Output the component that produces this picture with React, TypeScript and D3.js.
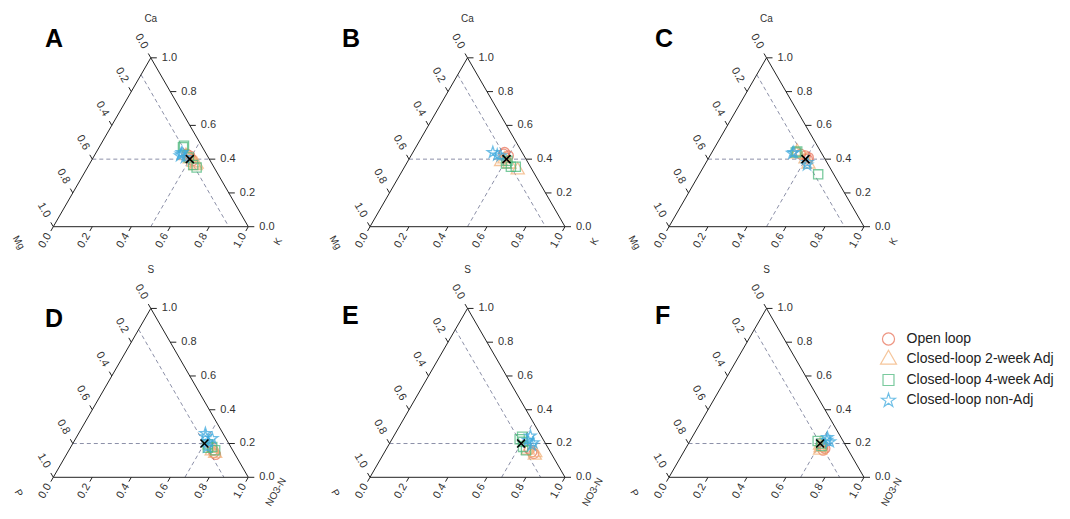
import React from "react";
import * as d3 from "d3";

// ---- data: each point is [top, left, right] composition ----
// Top row: [Ca, Mg, K]; bottom row: [S, P, NO3-N]
const topLabels = ["Ca", "Mg", "K"];
const bottomLabels = ["S", "P", "NO3-N"];
const panelLetters = ["A", "B", "C", "D", "E", "F"];
const tickValues = [0, 0.2, 0.4, 0.6, 0.8, 1.0];
const groupNames = ["Open loop", "Closed-loop 2-week Adj", "Closed-loop 4-week Adj", "Closed-loop non-Adj"];
const groupColors = ["#E8735A", "#F2B27A", "#4DB87E", "#3FA9DD"];

const targetTop = [0.4, 0.1, 0.5];
const targetBottom = [0.2, 0.125, 0.675];

// Panel A
const A_open = [[0.42, 0.09, 0.49], [0.41, 0.10, 0.49], [0.40, 0.09, 0.51], [0.39, 0.09, 0.52], [0.43, 0.10, 0.47]];
const A_wk2 = [[0.40, 0.10, 0.50], [0.37, 0.08, 0.55], [0.38, 0.09, 0.53], [0.42, 0.11, 0.47], [0.36, 0.09, 0.55]];
const A_wk4 = [[0.47, 0.10, 0.43], [0.48, 0.09, 0.43], [0.365, 0.10, 0.535], [0.35, 0.09, 0.56], [0.41, 0.10, 0.49]];
const A_non = [[0.42, 0.14, 0.44], [0.43, 0.13, 0.44], [0.41, 0.12, 0.47], [0.44, 0.12, 0.44]];
// Panel B
const B_open = [[0.44, 0.09, 0.47], [0.43, 0.10, 0.47], [0.42, 0.08, 0.50], [0.41, 0.10, 0.49]];
const B_wk2 = [[0.385, 0.135, 0.48], [0.335, 0.075, 0.59], [0.37, 0.10, 0.53], [0.40, 0.11, 0.49]];
const B_wk4 = [[0.375, 0.115, 0.51], [0.355, 0.10, 0.545], [0.355, 0.075, 0.57], [0.39, 0.10, 0.51]];
const B_non = [[0.44, 0.15, 0.41], [0.425, 0.135, 0.44], [0.42, 0.12, 0.46]];
// Panel C
const C_open = [[0.41, 0.08, 0.51], [0.42, 0.09, 0.49], [0.40, 0.09, 0.51], [0.43, 0.11, 0.46]];
const C_wk2 = [[0.445, 0.12, 0.435], [0.37, 0.10, 0.53], [0.40, 0.10, 0.50], [0.43, 0.13, 0.44]];
const C_wk4 = [[0.445, 0.12, 0.435], [0.44, 0.13, 0.43], [0.31, 0.08, 0.61]];
const C_non = [[0.435, 0.15, 0.415], [0.365, 0.11, 0.525], [0.38, 0.10, 0.52], [0.44, 0.14, 0.42]];
// Panel D
const D_open = [[0.145, 0.105, 0.75], [0.135, 0.10, 0.765], [0.16, 0.10, 0.74]];
const D_wk2 = [[0.14, 0.10, 0.76], [0.155, 0.11, 0.735], [0.17, 0.095, 0.735]];
const D_wk4 = [[0.18, 0.095, 0.725], [0.16, 0.09, 0.75], [0.195, 0.11, 0.695], [0.175, 0.12, 0.705]];
const D_non = [[0.26, 0.09, 0.65], [0.23, 0.07, 0.70], [0.18, 0.12, 0.70], [0.21, 0.10, 0.69], [0.24, 0.10, 0.66]];
// Panel E
const E_open = [[0.15, 0.095, 0.755], [0.14, 0.09, 0.77], [0.165, 0.10, 0.735]];
const E_wk2 = [[0.13, 0.09, 0.78], [0.145, 0.08, 0.775], [0.16, 0.11, 0.73]];
const E_wk4 = [[0.24, 0.10, 0.66], [0.18, 0.125, 0.695], [0.16, 0.12, 0.72], [0.21, 0.11, 0.68], [0.225, 0.12, 0.655]];
const E_non = [[0.245, 0.055, 0.70], [0.205, 0.06, 0.735], [0.22, 0.08, 0.70], [0.19, 0.075, 0.735]];
// Panel F
const F_open = [[0.17, 0.115, 0.715], [0.16, 0.13, 0.71], [0.18, 0.12, 0.70]];
const F_wk2 = [[0.16, 0.145, 0.695], [0.175, 0.135, 0.69], [0.19, 0.13, 0.68]];
const F_wk4 = [[0.215, 0.13, 0.655], [0.185, 0.125, 0.69], [0.20, 0.12, 0.68]];
const F_non = [[0.235, 0.07, 0.695], [0.21, 0.07, 0.72], [0.22, 0.08, 0.70]];

const panelData = [
  [A_open, A_wk2, A_wk4, A_non],
  [B_open, B_wk2, B_wk4, B_non],
  [C_open, C_wk2, C_wk4, C_non],
  [D_open, D_wk2, D_wk4, D_non],
  [E_open, E_wk2, E_wk4, E_non],
  [F_open, F_wk2, F_wk4, F_non],
];

// ---- layout ----
const W = 1070, H = 519;
const triW = 195;
const triH = triW * Math.sqrt(3) / 2;
const colX = [53.3, 370, 669];
const rowY = [226.7, 477.3];
const letterPos = [[45, 47], [342, 47], [655, 47], [45, 327], [342, 324], [655, 324]];

const symbols = [d3.symbolCircle, d3.symbolTriangle, d3.symbolSquare, d3.symbolStar];
const symSizes = [75, 75, 85, 40];
const legendSizes = [115, 110, 120, 60];

const axisColor = "#333";
const fontFamily = "'Liberation Sans', Arial, Helvetica, sans-serif";

function Panel({ idx }: { idx: number }) {
  const row = Math.floor(idx / 3), col = idx % 3;
  const x0 = colX[col], yb = rowY[row];
  const xs = d3.scaleLinear().domain([0, 1]).range([x0, x0 + triW]);
  const ys = d3.scaleLinear().domain([0, 1]).range([yb, yb - triH]);
  // comp: [top, left, right]
  const proj = (c: number[]) => [xs(c[2] + c[0] / 2), ys(c[0])];
  const labels = row === 0 ? topLabels : bottomLabels;
  const target = row === 0 ? targetTop : targetBottom;
  const apex = proj([1, 0, 0]), bl = proj([0, 1, 0]), br = proj([0, 0, 1]);
  const tri = d3.line()([apex, bl, br, apex] as [number, number][]) + "Z";

  // dashed guide lines through the target
  const [t, l, r] = target;
  const g1 = [proj([t, 1 - t, 0]), proj([t, 0, 1 - t])]; // horizontal (top const)
  const g2 = [proj([1 - l, l, 0]), proj([0, l, 1 - l])]; // left const
  const g3 = [proj([0, 1 - r, r]), proj([1 - r, 0, r])]; // right const
  const tp = proj(target);

  const c60 = 0.5, s60 = Math.sqrt(3) / 2;
  const kx = br[0] + (row === 0 ? 30 : 28), ky = br[1] + 15;
  const mx = bl[0] - 35, my = bl[1] + 16;
  return (
    <g>
      <text x={letterPos[idx][0]} y={letterPos[idx][1]} fontSize={25} fontWeight="bold" fontFamily={fontFamily} fill="#000">
        {panelLetters[idx]}
      </text>
      {[g1, g2, g3].map((g, i) => (
        <line key={i} x1={g[0][0]} y1={g[0][1]} x2={g[1][0]} y2={g[1][1]} stroke="#8c90a8" strokeWidth={1} strokeDasharray="4,3" />
      ))}
      <path d={tri} fill="none" stroke="#222" strokeWidth={1} />
      {tickValues.map((v) => {
        const pr = proj([v, 0, 1 - v]);
        const pl = proj([1 - v, v, 0]);
        const pb = proj([0, 1 - v, v]);
        const lab = v.toFixed(1);
        const lx = pl[0] - 19 * c60, ly = pl[1] - 19 * s60;
        const bx = pb[0] - 16 * c60, by = pb[1] + 16 * s60;
        return (
          <g key={lab} fontFamily={fontFamily} fontSize={11} fill={axisColor}>
            <line x1={pr[0]} y1={pr[1]} x2={pr[0] + 6} y2={pr[1]} stroke="#222" />
            <text x={pr[0] + 11} y={pr[1]} dominantBaseline="middle">{lab}</text>
            <line x1={pl[0]} y1={pl[1]} x2={pl[0] - 5 * c60} y2={pl[1] - 5 * s60} stroke="#222" />
            <text x={lx} y={ly} textAnchor="middle" dominantBaseline="middle" transform={`rotate(60,${lx},${ly})`}>{lab}</text>
            <line x1={pb[0]} y1={pb[1]} x2={pb[0] - 5 * c60} y2={pb[1] + 5 * s60} stroke="#222" />
            <text x={bx} y={by} textAnchor="middle" dominantBaseline="middle" transform={`rotate(-60,${bx},${by})`}>{lab}</text>
          </g>
        );
      })}
      <g fontFamily={fontFamily} fontSize={10} fill={axisColor}>
        <text x={apex[0]} y={apex[1] - 38} textAnchor="middle" dominantBaseline="middle">{labels[0]}</text>
        <text x={mx} y={my} textAnchor="middle" dominantBaseline="middle" transform={`rotate(60,${mx},${my})`}>{labels[1]}</text>
        <text x={kx} y={ky} textAnchor="middle" dominantBaseline="middle" transform={`rotate(-60,${kx},${ky})`}>{labels[2]}</text>
      </g>
      {panelData[idx].map((pts, gi) => (
        <g key={gi}>
          {pts.map((c, pi) => {
            const p = proj(c);
            return (
              <path key={pi} d={d3.symbol(symbols[gi], symSizes[gi])() as string} transform={`translate(${p[0]},${p[1]})`}
                fill="none" stroke={groupColors[gi]} strokeOpacity={0.75} strokeWidth={1.3} />
            );
          })}
        </g>
      ))}
      <g stroke="#000" strokeWidth={1.6}>
        <line x1={tp[0] - 4} y1={tp[1] - 4} x2={tp[0] + 4} y2={tp[1] + 4} />
        <line x1={tp[0] - 4} y1={tp[1] + 4} x2={tp[0] + 4} y2={tp[1] - 4} />
      </g>
    </g>
  );
}

function Legend() {
  const rows = [339, 359.5, 380, 400.5];
  return (
    <g fontFamily={fontFamily} fontSize={14} fill="#222">
      {groupNames.map((n, i) => (
        <g key={n}>
          <path d={d3.symbol(symbols[i], legendSizes[i])() as string} transform={`translate(888.5,${rows[i]})`} fill="none"
            stroke={groupColors[i]} strokeOpacity={0.75} strokeWidth={1.2} />
          <text x={906.5} y={rows[i]} dominantBaseline="middle">{n}</text>
        </g>
      ))}
    </g>
  );
}

export default function App() {
  return (
    <svg width={W} height={H} style={{ position: "absolute", left: 0, top: 0, background: "#fff" }}>
      <rect width={W} height={H} fill="#fff" />
      {panelLetters.map((_, i) => <Panel key={i} idx={i} />)}
      <Legend />
    </svg>
  );
}
